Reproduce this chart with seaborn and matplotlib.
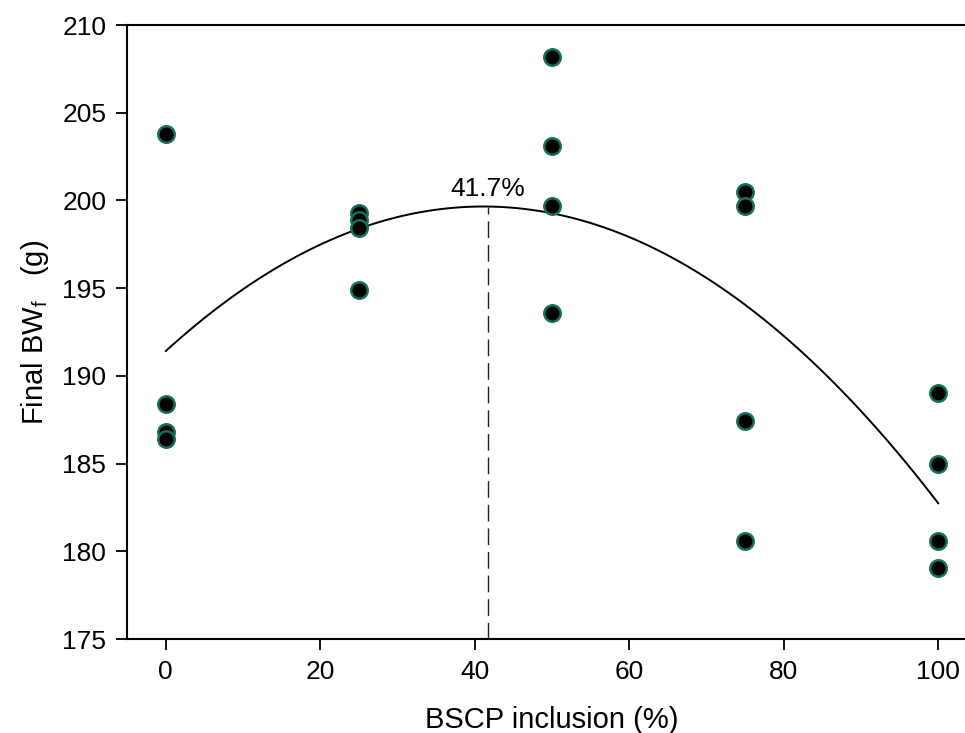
import matplotlib
matplotlib.use("Agg")
import matplotlib.pyplot as plt
import numpy as np
import pandas as pd
import seaborn as sns

sns.set_style("ticks")
plt.rcParams['font.family'] = ['Liberation Sans', 'DejaVu Sans']
plt.rcParams['mathtext.fontset'] = 'custom'
plt.rcParams['mathtext.rm'] = 'Liberation Sans'
plt.rcParams['text.color'] = 'black'
plt.rcParams['axes.labelcolor'] = 'black'
plt.rcParams['xtick.color'] = 'black'
plt.rcParams['ytick.color'] = 'black'

# BSCP inclusion level (%) and final body weight (g), 4 birds per level
inclusion = [0, 0, 0, 0,
             25, 25, 25, 25,
             50, 50, 50, 50,
             75, 75, 75, 75,
             100, 100, 100, 100]
final_bw = [203.8, 188.4, 186.8, 186.4,
            199.3, 198.9, 198.4, 194.9,
            208.2, 203.1, 199.7, 193.6,
            200.5, 199.7, 187.4, 180.6,
            189.0, 185.0, 180.6, 179.05]

optimum = 41.7
optimum_label = "41.7%"

df = pd.DataFrame({'inclusion': inclusion, 'bw': final_bw})

fig = plt.figure(figsize=(9.65, 7.33), dpi=100)
ax = fig.add_axes([127 / 965, 94 / 733, 850 / 965, 614 / 733])

# quadratic fit line
sns.regplot(data=df, x='inclusion', y='bw', order=2, ci=None, scatter=False,
            color='black', line_kws={'linewidth': 1.4}, ax=ax)

# points
sns.scatterplot(data=df, x='inclusion', y='bw', color='black', s=140,
                edgecolor='#17705c', linewidth=1.8, zorder=3, ax=ax)

# vertical line at optimum
coef = np.polyfit(df['inclusion'], df['bw'], 2)
peak = np.polyval(coef, optimum)
ax.plot([optimum, optimum], [175, peak], color='#222222', linewidth=1,
        dashes=(12, 5))
ax.text(optimum, peak + 0.3, optimum_label, ha='center', va='bottom',
        fontsize=19)

ax.set_xlim(-5, 105)
ax.set_ylim(175, 210)
ax.set_xticks([0, 20, 40, 60, 80, 100])
ax.set_yticks([175, 180, 185, 190, 195, 200, 205, 210])
ax.tick_params(axis='both', labelsize=19, length=8, width=1.3, direction='out',
               pad=7)
ax.set_xlabel("BSCP inclusion (%)", fontsize=21, labelpad=16)
ax.set_ylabel(r"Final BW$_\mathregular{f}$   (g)", fontsize=21, labelpad=8)

for side in ['left', 'top', 'bottom']:
    ax.spines[side].set_linewidth(1.5)
    ax.spines[side].set_color('black')
ax.spines['right'].set_visible(False)

fig.savefig("out.png", dpi=100)
